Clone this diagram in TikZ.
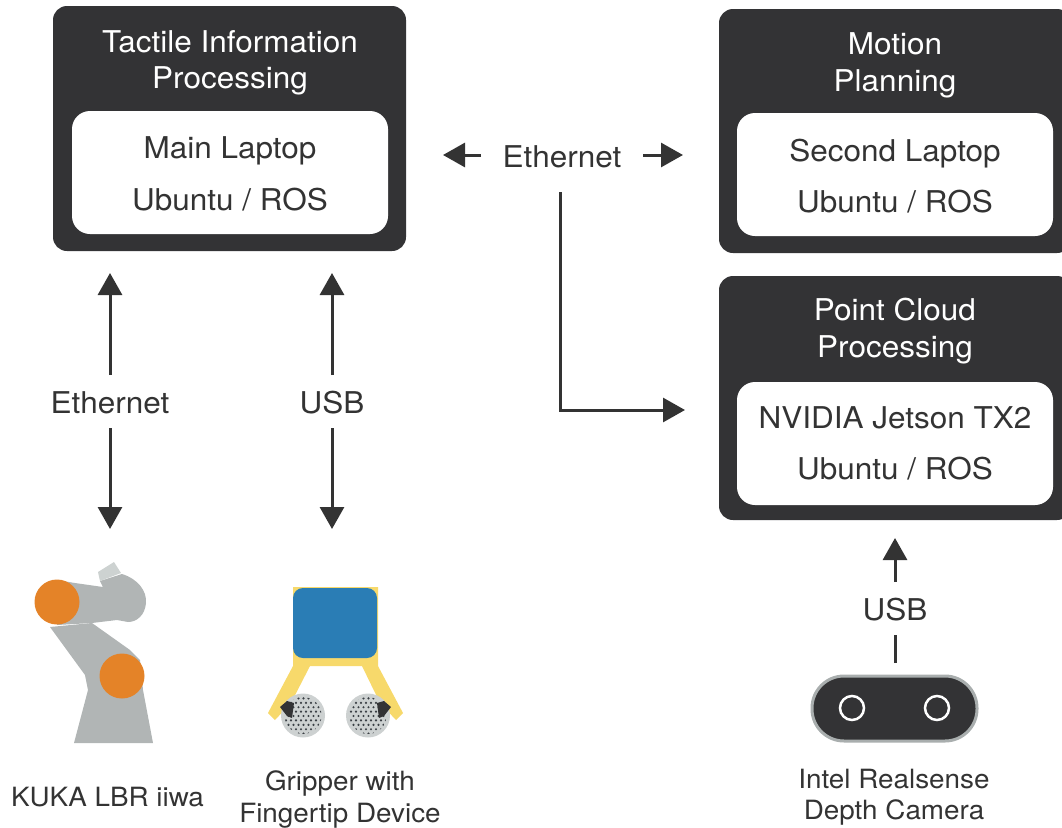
\documentclass[tikz,border=0pt]{standalone}
\usepackage{fontspec}
\setmainfont{TeX Gyre Heros}[FakeStretch=1.05]
\usetikzlibrary{arrows.meta}
\definecolor{panel}{RGB}{51,51,53}
\definecolor{ink}{RGB}{51,51,51}
\definecolor{armgray}{RGB}{177,181,181}
\definecolor{toolgray}{RGB}{205,210,209}
\definecolor{jointorange}{RGB}{228,131,40}
\definecolor{gripyellow}{RGB}{247,217,107}
\definecolor{gripblue}{RGB}{42,125,181}
\definecolor{tipgray}{RGB}{205,209,209}
\definecolor{dotc}{RGB}{58,63,68}
\definecolor{camrim}{RGB}{169,174,174}

\begin{document}
\begin{tikzpicture}[x=1pt,y=-1pt,
  panelbox/.style={fill=panel, rounded corners=14pt, inner sep=0pt, outer sep=0pt},
  hostbox/.style={fill=white, rounded corners=18pt, inner sep=0pt, outer sep=0pt},
  title/.style={text=white, font=\fontsize{30}{36}\selectfont, anchor=base, inner sep=0pt},
  host/.style={text=ink, font=\fontsize{30}{36}\selectfont, anchor=base, inner sep=0pt},
  link/.style={text=ink, font=\fontsize{30}{36}\selectfont, anchor=base, inner sep=0pt},
  caption/.style={text=ink, font=\fontsize{26.5}{32}\selectfont, anchor=base, inner sep=0pt},
  arr/.style={draw=ink, line width=3pt, -{Triangle[length=22pt,width=24pt]}},
  wire/.style={draw=ink, line width=3pt},
  camera/.style={draw=camrim, fill=panel, line width=3pt, rounded corners=32pt, inner sep=0pt},
]
\useasboundingbox (0,0) rectangle (1062,827);

% ---------- computing units ----------
\node[panelbox, minimum width=353pt, minimum height=245pt] (tactile) at (229.5,128.5) {};
\node[hostbox, minimum width=316pt, minimum height=123pt] (laptop) at (230,172.5) {};
\node[title] (tactileA) at (230,52) {Tactile Information};
\node[title] (tactileB) at (230,88) {Processing};
\node[host] (laptopA) at (230,158) {Main Laptop};
\node[host] (laptopB) at (230,210) {Ubuntu / ROS};

\node[panelbox, minimum width=352pt, minimum height=244pt] (motion) at (895,131) {};
\node[hostbox, minimum width=316pt, minimum height=123pt] (second) at (895,174.5) {};
\node[title] (motionA) at (895,54) {Motion};
\node[title] (motionB) at (895,91) {Planning};
\node[host] (secondA) at (895,161) {Second Laptop};
\node[host] (secondB) at (895,212) {Ubuntu / ROS};

\node[panelbox, minimum width=352pt, minimum height=244pt] (cloud) at (895,398) {};
\node[hostbox, minimum width=316pt, minimum height=123pt] (jetson) at (895,443.5) {};
\node[title] (cloudA) at (895,320) {Point Cloud};
\node[title] (cloudB) at (895,357) {Processing};
\node[host] (jetsonA) at (895,428) {NVIDIA Jetson TX2};
\node[host] (jetsonB) at (895,479) {Ubuntu / ROS};

% ---------- link labels ----------
\node[link] (ethTop) at (562,167) {Ethernet};
\node[link] (ethKuka) at (110,413) {Ethernet};
\node[link] (usbGrip) at (332,413) {USB};
\node[link] (usbCam) at (895,620) {USB};

% ---------- connector end points ----------
\coordinate (ethTopL0) at (481,155);
\coordinate (ethTopL1) at (443,155);
\coordinate (ethTopR0) at (643,155);
\coordinate (ethTopR1) at (683,155);
\coordinate (ethDown) at (560,192);
\coordinate (ethBend) at (560,410);
\coordinate (ethJetson) at (685,410);
\coordinate (kukaUp0) at (110,375);
\coordinate (kukaUp1) at (110,273);
\coordinate (kukaDn0) at (110,428);
\coordinate (kukaDn1) at (110,529);
\coordinate (gripUp0) at (332,375);
\coordinate (gripUp1) at (332,273);
\coordinate (gripDn0) at (332,428);
\coordinate (gripDn1) at (332,529);
\coordinate (camUp0) at (895,582);
\coordinate (camUp1) at (895,538);
\coordinate (camLo0) at (895,663);
\coordinate (camLo1) at (895,635);

% ---------- connectors ----------
\draw[arr] (ethTopL0) -- (ethTopL1);
\draw[arr] (ethTopR0) -- (ethTopR1);
\draw[arr] (ethDown) -- (ethBend) -- (ethJetson);
\draw[arr] (kukaUp0) -- (kukaUp1);
\draw[arr] (kukaDn0) -- (kukaDn1);
\draw[arr] (gripUp0) -- (gripUp1);
\draw[arr] (gripDn0) -- (gripDn1);
\draw[arr] (camUp0) -- (camUp1);
\draw[wire] (camLo0) -- (camLo1);

% ---------- KUKA arm ----------
% base and lower link
\fill[armgray] (74,743) -- (88,690) -- (85,675) -- (50,627) -- (92,623) -- (130,650) -- (140,660) -- (143,690) -- (153,743) -- cycle;
% upper link with rounded end
\fill[armgray] (57,580) -- (75,583) -- (103,587) -- (100,581) -- (122,574)
  .. controls (138,579) and (147,591) .. (146,603)
  .. controls (145,615) and (137,622) .. (128,622)
  -- (117,620) -- (92,623) -- (57,625) -- cycle;
% tool flange
\fill[toolgray] (98,572) -- (114,562) -- (121,573) -- (100,581) -- cycle;
% joints
\fill[jointorange] (57,602) circle (22.5pt);
\fill[jointorange] (122,676) circle (22.5pt);

% ---------- gripper ----------
\fill[gripyellow] (293,587) -- (378,587) -- (378,666) -- (403,713) -- (396,720) -- (380,703)
  -- (362,666) -- (310,666) -- (291,703) -- (275,720) -- (268,713) -- (293,666) -- cycle;
\fill[gripblue, rounded corners=10pt] (293,588) rectangle (377,658);
\foreach \cx in {303,368} {
  \fill[tipgray] (\cx,715.5) circle (22pt);
  \begin{scope}
    \clip (\cx,715.5) circle (18.5pt);
    \foreach \r in {0,...,10} {
      \foreach \c in {0,...,9} {
        \fill[dotc] ({\cx-22+\c*5+mod(\r,2)*2.5},{694+\r*4.4}) circle (1.2pt);
      }
    }
  \end{scope}
}
% finger pads
\fill[panel] (280,707) -- (287,701) -- (294,703) -- (292,718) -- (287,716) -- cycle;
\fill[panel] (391,707) -- (384,701) -- (377,703) -- (379,718) -- (384,716) -- cycle;

% ---------- depth camera ----------
\node[camera, minimum width=165pt, minimum height=65pt] (cam) at (894.5,708.5) {};
\draw[white, line width=2.5pt] (852,708) circle (12pt);
\draw[white, line width=2.5pt] (937,708) circle (12pt);

% ---------- captions ----------
\node[caption] (kukaCap) at (107.5,806) {KUKA LBR iiwa};
\node[caption] (gripCapA) at (340,790) {Gripper with};
\node[caption] (gripCapB) at (340,822) {Fingertip Device};
\node[caption] (camCapA) at (894,788) {Intel Realsense};
\node[caption] (camCapB) at (894,819) {Depth Camera};
\end{tikzpicture}
\end{document}
